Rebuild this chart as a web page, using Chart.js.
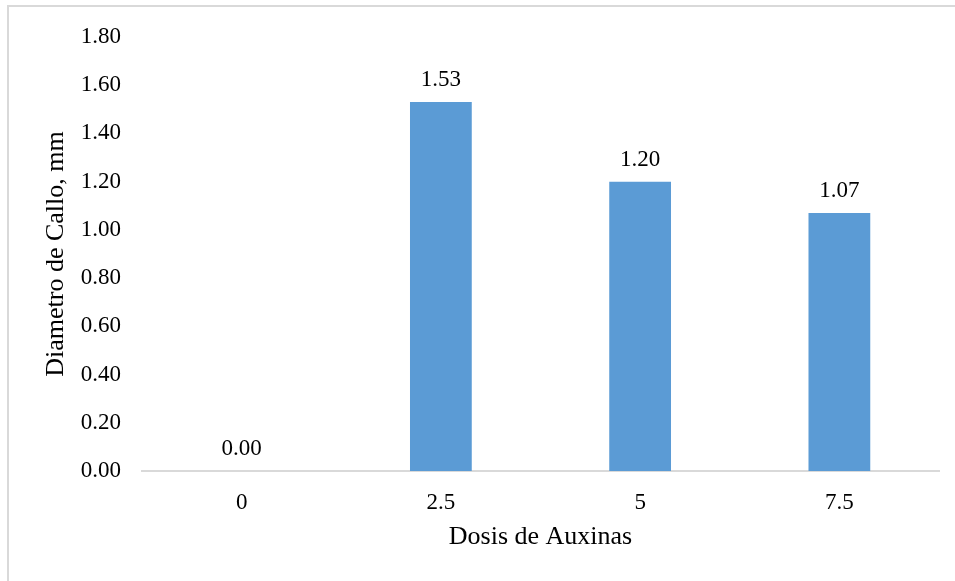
<!DOCTYPE html>
<html lang="es">
<head>
  <meta charset="UTF-8">
  <title>Diametro de Callo</title>
  <script src="https://cdn.jsdelivr.net/npm/chart.js"></script>
  <style>
    body { margin: 0; background: #fff; }
    .wrap { position: relative; width: 955px; height: 581px; overflow: hidden; }
    .frame { position: absolute; left: 7px; top: 5px; width: 960px; height: 590px; border: 2px solid #d9d9d9; }
    canvas { position: absolute; left: 0; top: 0; }
  </style>
</head>
<body>
<div class="wrap">
  <div class="frame"></div>
  <canvas id="callo" width="955" height="581"></canvas>
</div>
<script>
  // Dosis de auxinas y diametro medio del callo
  const dosis = ['0', '2.5', '5', '7.5'];
  const diametro = [0.00, 1.53, 1.20, 1.07];

  const serif = "'Liberation Serif', 'Times New Roman', serif";

  // Etiqueta con el valor encima de cada barra
  const valueLabels = {
    id: 'valueLabels',
    afterDatasetsDraw(chart) {
      const ctx = chart.ctx;
      const meta = chart.getDatasetMeta(0);
      ctx.save();
      ctx.font = '23px ' + serif;
      ctx.fillStyle = '#000';
      ctx.textAlign = 'center';
      ctx.textBaseline = 'alphabetic';
      meta.data.forEach((bar, i) => {
        ctx.fillText(diametro[i].toFixed(2), bar.x, bar.y - 16);
      });
      ctx.restore();
    }
  };

  new Chart(document.getElementById('callo'), {
    type: 'bar',
    data: {
      labels: dosis,
      datasets: [{
        data: diametro,
        backgroundColor: '#5b9bd5',
        barPercentage: 0.62,
        categoryPercentage: 0.5
      }]
    },
    options: {
      responsive: false,
      animation: false,
      layout: { padding: { top: 37, right: 16, left: 0, bottom: 0 } },
      plugins: { legend: { display: false }, tooltip: { enabled: false } },
      scales: {
        x: {
          grid: { display: false, drawTicks: false },
          border: { color: '#d9d9d9', width: 2 },
          ticks: { color: '#000', font: { family: serif, size: 23 }, padding: 18 },
          title: {
            display: true, text: 'Dosis de Auxinas', color: '#000',
            font: { family: serif, size: 26 }, padding: { top: 0, bottom: 28 }
          },
          afterFit(scale) { scale.height = 110; }
        },
        y: {
          min: 0, max: 1.8,
          grid: { display: false, drawTicks: false },
          border: { display: false },
          ticks: {
            stepSize: 0.2, color: '#000', padding: 21,
            font: { family: serif, size: 23 },
            callback: v => v.toFixed(2)
          },
          title: {
            display: true, text: 'Diametro de Callo, mm', color: '#000',
            font: { family: serif, size: 26 }, padding: { top: 41, bottom: 0 }
          },
          afterFit(scale) { scale.width = 142; }
        }
      }
    },
    plugins: [valueLabels]
  });
</script>
</body>
</html>
